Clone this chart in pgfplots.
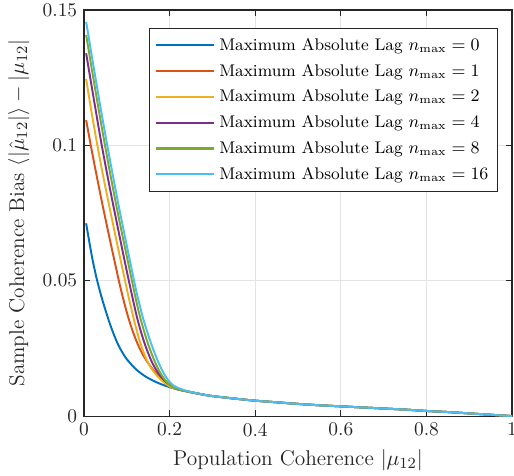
\documentclass[border=0pt]{standalone}
\usepackage{pgfplots}
\pgfplotsset{compat=1.18}
\usetikzlibrary{calc}
\definecolor{c1}{rgb}{0,0.447,0.741}
\definecolor{c2}{rgb}{0.85,0.325,0.098}
\definecolor{c3}{rgb}{0.929,0.694,0.125}
\definecolor{c4}{rgb}{0.494,0.184,0.556}
\definecolor{c5}{rgb}{0.466,0.674,0.188}
\definecolor{c6}{rgb}{0.301,0.745,0.933}
\definecolor{axc}{rgb}{0.15,0.15,0.15}
\begin{document}
\begin{tikzpicture}
\begin{axis}[
  scale only axis,
  width=220.6pt, height=209.3pt,
  xmin=0, xmax=1, ymin=0, ymax=0.15,
  xtick={0,0.2,0.4,0.6,0.8,1},
  xticklabels={0,0.2,0.4,0.6,0.8,1},
  ytick={0,0.05,0.1,0.15},
  yticklabels={0,0.05,0.1,0.15},
  scaled x ticks=false, scaled y ticks=false,
  tick align=inside,
  major tick length=3pt,
  axis line style={axc, line width=0.6pt},
  tick style={axc, line width=0.6pt},
  grid=major,
  major grid style={gray!22, line width=0.5pt},
  tick label style={font=\fontsize{10}{12}\selectfont, text=axc},
  label style={font=\fontsize{11}{13}\selectfont, text=axc},
  xlabel={Population Coherence $|\mu_{12}|$},
  ylabel={Sample Coherence Bias $\langle|\hat{\mu}_{12}|\rangle - |\mu_{12}|$},
  legend style={at={(rel axis cs:0.968,0.955)}, anchor=north east,
    font=\fontsize{8.7}{10.5}\selectfont, draw=axc, line width=0.6pt,
    row sep=1.6pt, inner sep=2.8pt},
  legend cell align=left,
  legend image code/.code={\draw[#1, line width=1.1pt] (0pt,0.3pt) -- (30pt,0.3pt);},
  every axis plot/.append style={line width=1pt, smooth},
]
\addplot[c1] coordinates {
(0.005,0.0712)(0.01,0.0665)(0.02,0.0577)(0.03,0.0505)(0.04,0.0445)(0.05,0.0392)(0.06,0.0343)
(0.07,0.0300)(0.08,0.0263)(0.09,0.0234)(0.10,0.0210)(0.12,0.0175)(0.14,0.0150)(0.16,0.0132)
(0.18,0.0118)(0.20,0.0107)(0.22,0.0098)(0.24,0.0091)
(0.26,0.0085)(0.28,0.0079)(0.30,0.0074)(0.35,0.0065)(0.40,0.0057)(0.45,0.0051)
(0.50,0.0045)(0.55,0.0040)(0.60,0.0036)(0.65,0.0032)(0.70,0.0028)(0.75,0.0024)(0.80,0.0019)
(0.85,0.0015)(0.90,0.0010)(0.95,0.0005)(1.00,0)};
\addlegendentry{Maximum Absolute Lag $n_{\max}=0$}
\addplot[c2] coordinates {
(0.005,0.1093)(0.02,0.0965)(0.04,0.0805)(0.06,0.0655)(0.08,0.0510)(0.09,0.0443)(0.10,0.0383)
(0.11,0.0331)(0.12,0.0287)(0.13,0.0250)(0.14,0.0220)(0.15,0.0195)(0.16,0.0174)(0.17,0.0156)
(0.18,0.0141)(0.19,0.0127)(0.20,0.0115)(0.21,0.0106)(0.22,0.0099)(0.24,0.0091)
(0.26,0.0085)(0.28,0.0079)(0.30,0.0074)(0.35,0.0065)(0.40,0.0057)(0.45,0.0051)
(0.50,0.0045)(0.55,0.0040)(0.60,0.0036)(0.65,0.0032)(0.70,0.0028)(0.75,0.0024)(0.80,0.0019)
(0.85,0.0015)(0.90,0.0010)(0.95,0.0005)(1.00,0)};
\addlegendentry{Maximum Absolute Lag $n_{\max}=1$}
\addplot[c3] coordinates {
(0.005,0.1245)(0.02,0.1100)(0.04,0.0925)(0.06,0.0768)(0.08,0.0617)(0.10,0.0470)(0.11,0.0400)
(0.12,0.0335)(0.13,0.0278)(0.14,0.0232)(0.15,0.0196)(0.16,0.0170)(0.17,0.0150)(0.18,0.0134)
(0.19,0.0120)(0.20,0.0110)(0.21,0.0103)(0.22,0.0098)(0.24,0.0091)
(0.26,0.0085)(0.28,0.0079)(0.30,0.0074)(0.35,0.0065)(0.40,0.0057)(0.45,0.0051)
(0.50,0.0045)(0.55,0.0040)(0.60,0.0036)(0.65,0.0032)(0.70,0.0028)(0.75,0.0024)(0.80,0.0019)
(0.85,0.0015)(0.90,0.0010)(0.95,0.0005)(1.00,0)};
\addlegendentry{Maximum Absolute Lag $n_{\max}=2$}
\addplot[c4] coordinates {
(0.005,0.1340)(0.02,0.1198)(0.04,0.1013)(0.06,0.0845)(0.08,0.0688)(0.10,0.0535)(0.12,0.0390)
(0.13,0.0328)(0.14,0.0276)(0.15,0.0232)(0.16,0.0195)(0.17,0.0167)(0.18,0.0145)(0.19,0.0129)
(0.20,0.0116)(0.21,0.0106)(0.22,0.0099)(0.24,0.0092)
(0.26,0.0085)(0.28,0.0079)(0.30,0.0074)(0.35,0.0065)(0.40,0.0057)(0.45,0.0051)
(0.50,0.0045)(0.55,0.0040)(0.60,0.0036)(0.65,0.0032)(0.70,0.0028)(0.75,0.0024)(0.80,0.0019)
(0.85,0.0015)(0.90,0.0010)(0.95,0.0005)(1.00,0)};
\addlegendentry{Maximum Absolute Lag $n_{\max}=4$}
\addplot[c5] coordinates {
(0.005,0.1408)(0.02,0.1265)(0.04,0.1080)(0.06,0.0905)(0.08,0.0742)(0.10,0.0590)(0.12,0.0440)
(0.13,0.0372)(0.14,0.0315)(0.15,0.0265)(0.16,0.0222)(0.17,0.0185)(0.18,0.0155)(0.19,0.0132)
(0.20,0.0116)(0.21,0.0105)(0.22,0.0099)(0.24,0.0092)
(0.26,0.0085)(0.28,0.0079)(0.30,0.0074)(0.35,0.0065)(0.40,0.0057)(0.45,0.0051)
(0.50,0.0045)(0.55,0.0040)(0.60,0.0036)(0.65,0.0032)(0.70,0.0028)(0.75,0.0024)(0.80,0.0019)
(0.85,0.0015)(0.90,0.0010)(0.95,0.0005)(1.00,0)};
\addlegendentry{Maximum Absolute Lag $n_{\max}=8$}
\addplot[c6] coordinates {
(0.005,0.1456)(0.02,0.1313)(0.04,0.1127)(0.06,0.0951)(0.08,0.0785)(0.10,0.0629)(0.12,0.0477)
(0.13,0.0410)(0.14,0.0350)(0.15,0.0300)(0.16,0.0254)(0.17,0.0213)(0.18,0.0177)(0.19,0.0148)
(0.20,0.0126)(0.21,0.0112)(0.22,0.0104)(0.24,0.0093)
(0.26,0.0086)(0.28,0.0079)(0.30,0.0074)(0.35,0.0065)(0.40,0.0057)(0.45,0.0051)
(0.50,0.0045)(0.55,0.0040)(0.60,0.0036)(0.65,0.0032)(0.70,0.0028)(0.75,0.0024)(0.80,0.0019)
(0.85,0.0015)(0.90,0.0010)(0.95,0.0005)(1.00,0)};
\addlegendentry{Maximum Absolute Lag $n_{\max}=16$}
\end{axis}
\pgfresetboundingbox
\path[use as bounding box] ($(current axis.south west)+(-43.3pt,-30.4pt)$) rectangle ($(current axis.north east)+(1pt,5.15pt)$);
\end{tikzpicture}
\end{document}
